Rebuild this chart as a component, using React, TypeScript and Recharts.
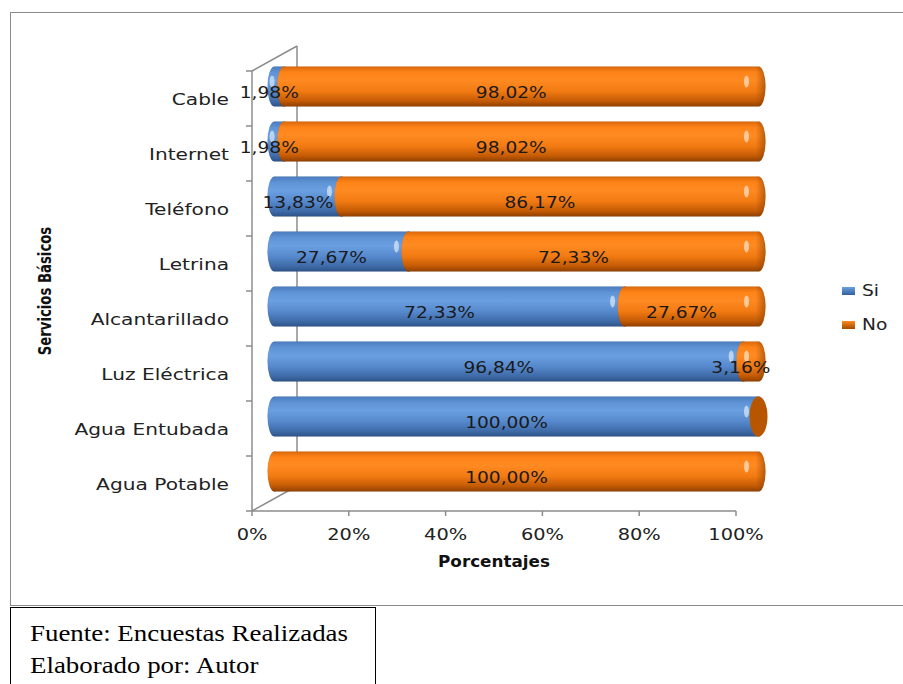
import { Bar, BarChart, Label, LabelList, XAxis, YAxis } from "recharts";

const categories = [
  "Cable",
  "Internet",
  "Teléfono",
  "Letrina",
  "Alcantarillado",
  "Luz Eléctrica",
  "Agua Entubada",
  "Agua Potable",
];
const siValues = [1.98, 1.98, 13.83, 27.67, 72.33, 96.84, 100, 0];
const noValues = [98.02, 98.02, 86.17, 72.33, 27.67, 3.16, 0, 100];
const xTicks = [0, 20, 40, 60, 80, 100];
const legendItems = [
  { label: "Si", kind: "si" },
  { label: "No", kind: "no" },
];

const data = categories.map((name, i) => ({ name, si: siValues[i], no: noValues[i] }));

// layout of the plot (front plane) and the fake 3d depth
const W = 903;
const H = 606;
const AXIS_LEFT = 252;
const AXIS_RIGHT = 736;
const PLOT_TOP = 71;
const PLOT_BOTTOM = 511;
const X_AXIS_H = 30;
const DEPTH_X = 45;
const DEPTH_Y = -25;
const MID_X = DEPTH_X / 2;
const MID_Y = DEPTH_Y / 2;
const BAND = (PLOT_BOTTOM - PLOT_TOP) / categories.length;
const FONT = "'DejaVu Sans', Verdana, sans-serif";
const STRETCH = 1.2;
const AXIS_GRAY = "#8c8c8c";

const colors = {
  si: { face: "#3d6aa6", cap: "#2f5488" },
  no: { face: "#b85600", cap: "#8f4000" },
};

function Cylinder(props: any) {
  const { x, y, width, height, kind } = props;
  const c = colors[kind as "si" | "no"];
  const x0 = x + MID_X;
  const x1 = x + width + MID_X;
  const top = y + MID_Y;
  const ry = height / 2;
  const cy = top + ry;
  const rx = 7;
  if (!(width > 0.5)) {
    return <ellipse cx={x0} cy={cy} rx={kind === "si" ? 5 : 9} ry={ry} fill={c.face} />;
  }
  const d = `M${x0},${top} L${x1},${top} A${rx},${ry} 0 0 1 ${x1},${top + height} L${x0},${top + height} A${rx},${ry} 0 0 1 ${x0},${top} Z`;
  return (
    <g>
      <path d={d} fill={`url(#cyl-${kind})`} stroke="rgba(0,0,0,0.08)" strokeWidth={0.6} />
      <ellipse cx={x1} cy={cy} rx={rx} ry={ry} fill={`url(#cap-${kind})`} />
      <ellipse cx={x1 - 12} cy={cy - 5} rx={2.5} ry={6} fill="#ffffff" opacity={0.55} />
    </g>
  );
}

function ValueLabel(props: any) {
  const { x, y, width, height, value } = props;
  const v = Array.isArray(value) ? value[1] - value[0] : Number(value);
  if (!v) return null;
  const cx = x + width / 2 + MID_X - 10;
  const base = y + height / 2 + MID_Y + 11;
  return (
    <text
      transform={`translate(${cx},${base}) scale(${STRETCH},1)`}
      textAnchor="middle"
      fontFamily={FONT}
      fontSize={15.5}
      fill="#1a1a1a"
    >
      {v.toFixed(2).replace(".", ",") + "%"}
    </text>
  );
}

function CategoryTick(props: any) {
  const { y, payload, index } = props;
  return (
    <g>
      <line x1={AXIS_LEFT - 6} x2={AXIS_LEFT} y1={y - BAND / 2} y2={y - BAND / 2} stroke={AXIS_GRAY} strokeWidth={1.5} />
      {index === categories.length - 1 && (
        <line x1={AXIS_LEFT - 6} x2={AXIS_LEFT} y1={y + BAND / 2} y2={y + BAND / 2} stroke={AXIS_GRAY} strokeWidth={1.5} />
      )}
      <text
        transform={`translate(${AXIS_LEFT - 23},${y + 6}) scale(1.26,1)`}
        textAnchor="end"
        fontFamily={FONT}
        fontSize={16}
        fill="#222"
      >
        {payload.value}
      </text>
    </g>
  );
}

function PercentTick(props: any) {
  const { x, y, payload } = props;
  return (
    <text
      transform={`translate(${x},${y + 22}) scale(1.25,1)`}
      textAnchor="middle"
      fontFamily={FONT}
      fontSize={15.5}
      fill="#222"
    >
      {payload.value + "%"}
    </text>
  );
}

function XTitle(props: any) {
  const { viewBox } = props;
  return (
    <text
      transform={`translate(${viewBox.x + viewBox.width / 2},${viewBox.y + 56}) scale(1.12,1)`}
      textAnchor="middle"
      fontFamily={FONT}
      fontWeight="bold"
      fontSize={15}
      fill="#111"
    >
      Porcentajes
    </text>
  );
}

function YTitle(props: any) {
  const { viewBox } = props;
  return (
    <text
      transform={`translate(51,${viewBox.y + viewBox.height / 2}) rotate(-90) scale(0.92,1.1)`}
      textAnchor="middle"
      fontFamily="'Liberation Sans Narrow', 'DejaVu Sans Condensed', 'Open Sans', sans-serif"
      fontWeight="bold"
      fontSize={16}
      fill="#111"
    >
      Servicios Básicos
    </text>
  );
}

function LegendBox() {
  return (
    <div style={{ position: "absolute", left: 842, top: 274, fontFamily: FONT, fontSize: 15.5, color: "#222" }}>
      {legendItems.map((it) => (
        <div key={it.label} style={{ display: "flex", alignItems: "center", height: 34 }}>
          <svg width={14} height={10} style={{ marginRight: 6 }}>
            <defs>
              <linearGradient id={`leg-${it.kind}`} x1="0" y1="0" x2="0" y2="1">
                <stop offset="0" stopColor={it.kind === "si" ? "#6a9fe0" : "#ff8a22"} />
                <stop offset="1" stopColor={it.kind === "si" ? "#34609c" : "#a04a00"} />
              </linearGradient>
            </defs>
            <rect x={0} y={1} width={13} height={8} fill={`url(#leg-${it.kind})`} />
          </svg>
          <span style={{ display: "inline-block", transform: `scale(${STRETCH},1)`, transformOrigin: "left" }}>
            {it.label}
          </span>
        </div>
      ))}
    </div>
  );
}

export default function App() {
  return (
    <div style={{ position: "fixed", left: 0, top: 0, width: W, height: 684, background: "#fff", overflow: "hidden" }}>
      <div
        style={{
          position: "absolute",
          left: 10,
          top: 12,
          width: 940,
          height: 592,
          border: "1.5px solid #8a8a8a",
        }}
      />
      <svg width={W} height={H} style={{ position: "absolute", left: 0, top: 0 }}>
        <g stroke={AXIS_GRAY} strokeWidth={1.5} fill="none">
          <line x1={AXIS_LEFT} y1={PLOT_TOP} x2={AXIS_LEFT + DEPTH_X} y2={PLOT_TOP + DEPTH_Y} />
          <line x1={AXIS_LEFT + DEPTH_X} y1={PLOT_TOP + DEPTH_Y} x2={AXIS_LEFT + DEPTH_X} y2={PLOT_BOTTOM + DEPTH_Y} />
          <line x1={AXIS_LEFT} y1={PLOT_BOTTOM} x2={AXIS_LEFT + DEPTH_X} y2={PLOT_BOTTOM + DEPTH_Y} />
        </g>
      </svg>
      <div style={{ position: "absolute", left: 0, top: 0 }}>
        <BarChart
          width={W}
          height={H}
          data={data}
          layout="vertical"
          margin={{ top: PLOT_TOP, right: W - AXIS_RIGHT, bottom: H - PLOT_BOTTOM - X_AXIS_H, left: 0 }}
          barSize={40}
        >
          <defs>
            <linearGradient id="cyl-si" x1="0" y1="0" x2="0" y2="1">
              <stop offset="0" stopColor="#4a7bbd" />
              <stop offset="0.15" stopColor="#5e93d6" />
              <stop offset="0.35" stopColor="#6aa0e1" />
              <stop offset="0.62" stopColor="#5689cd" />
              <stop offset="0.86" stopColor="#3f6ca9" />
              <stop offset="1" stopColor="#2e5388" />
            </linearGradient>
            <linearGradient id="cyl-no" x1="0" y1="0" x2="0" y2="1">
              <stop offset="0" stopColor="#d9680a" />
              <stop offset="0.15" stopColor="#ff8418" />
              <stop offset="0.35" stopColor="#ff8a22" />
              <stop offset="0.62" stopColor="#f27a12" />
              <stop offset="0.86" stopColor="#c45b05" />
              <stop offset="1" stopColor="#8f4000" />
            </linearGradient>
            <linearGradient id="cap-si" x1="0" y1="0" x2="1" y2="0">
              <stop offset="0.3" stopColor="#2f5488" stopOpacity={0} />
              <stop offset="1" stopColor="#2f5488" stopOpacity={0.55} />
            </linearGradient>
            <linearGradient id="cap-no" x1="0" y1="0" x2="1" y2="0">
              <stop offset="0.3" stopColor="#8f4000" stopOpacity={0} />
              <stop offset="1" stopColor="#8f4000" stopOpacity={0.6} />
            </linearGradient>
          </defs>
          <XAxis
            type="number"
            domain={[0, 100]}
            ticks={xTicks}
            height={X_AXIS_H}
            axisLine={{ stroke: AXIS_GRAY, strokeWidth: 1.5 }}
            tickLine={{ stroke: AXIS_GRAY, strokeWidth: 1.5 }}
            tickSize={5}
            tick={<PercentTick />}
          >
            <Label content={<XTitle />} />
          </XAxis>
          <YAxis
            type="category"
            dataKey="name"
            width={AXIS_LEFT}
            axisLine={{ stroke: AXIS_GRAY, strokeWidth: 1.5 }}
            tickLine={false}
            tick={<CategoryTick />}
            interval={0}
          >
            <Label content={<YTitle />} />
          </YAxis>
          <Bar dataKey="si" name="Si" stackId="a" isAnimationActive={false} shape={(p: any) => <Cylinder {...p} kind="si" />}>
            <LabelList dataKey="si" content={<ValueLabel />} />
          </Bar>
          <Bar dataKey="no" name="No" stackId="a" isAnimationActive={false} shape={(p: any) => <Cylinder {...p} kind="no" />}>
            <LabelList dataKey="no" content={<ValueLabel />} />
          </Bar>
        </BarChart>
      </div>
      <LegendBox />
      <div
        style={{
          position: "absolute",
          left: 10,
          top: 607,
          width: 366,
          height: 100,
          border: "1px solid #000",
          background: "#fff",
          boxSizing: "border-box",
          padding: "9px 0 0 19px",
          fontFamily: "'Liberation Serif', 'Times New Roman', serif",
          fontSize: 24,
          lineHeight: "32px",
          color: "#000",
        }}
      >
        <div style={{ transform: "scale(1.12,1)", transformOrigin: "left" }}>Fuente: Encuestas Realizadas</div>
        <div style={{ transform: "scale(1.12,1)", transformOrigin: "left" }}>Elaborado por: Autor</div>
      </div>
    </div>
  );
}
